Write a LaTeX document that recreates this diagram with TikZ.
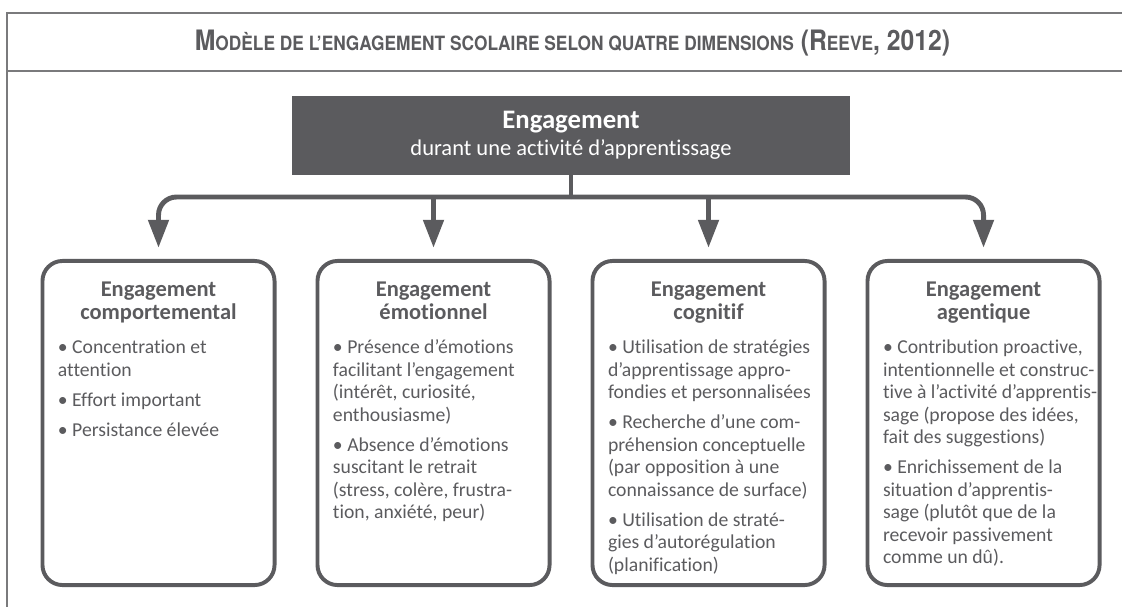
\documentclass[tikz,border=0pt]{standalone}
\usepackage{graphicx}
\usepackage{fontspec}
\setmainfont{Carlito}[Ligatures=NoCommon]
\newfontfamily\headfont{TeX Gyre Heros}
\usetikzlibrary{positioning,arrows.meta}
\definecolor{ink}{HTML}{5B5B5E}
\definecolor{rule}{HTML}{7A7A7C}
\newcommand\smcap[1]{{\fontsize{14}{14}\selectfont #1}}

\begin{document}
\begin{tikzpicture}[x=0.025cm, y=-0.025cm,
  main/.style = {fill=ink, text=white, minimum width=13.95cm, minimum height=1.975cm, align=center, inner sep=0pt},
  dim/.style = {draw=ink, line width=2.8pt, rounded corners=0.5cm, minimum width=5.8cm, minimum height=8.1cm},
  dimhead/.style = {text=ink, align=center, inner sep=0pt, font=\bfseries\fontsize{16}{16.4}\selectfont},
  dimtext/.style = {text=ink, align=left, inner sep=0pt, font=\fontsize{14}{16}\selectfont},
  link/.style = {draw=ink, line width=3.5pt, rounded corners=0.45cm},
  tip/.style = {-{Triangle[width=0.5cm,length=0.7cm]}, shorten >=0.28cm},
  frame/.style = {draw=rule, line width=1.1pt}]
\useasboundingbox (0,0) rectangle (1122,607);
% frame and title
\draw[frame] (1122,13) -- (7,13) -- (7,607);
\draw[frame] (7,71) -- (1122,71);
\node[anchor=base, text=ink] (t) at (572.5,50) {\resizebox{18.875cm}{\height}{\headfont\bfseries\fontsize{20}{20}\selectfont M\smcap{ODÈLE DE L’ENGAGEMENT SCOLAIRE SELON QUATRE DIMENSIONS} (R\smcap{EEVE}, 2012)}};
% top box
\node[main] (0) at (571,135.5) {{\bfseries\fontsize{19}{20}\selectfont Engagement}\\[4pt]{\fontsize{16}{20}\selectfont durant une activité d’apprentissage}};
% four dimensions
\node[dim] (1) at (158.5,423) {};
\node[dim] (2) [right=0.975cm of 1] {};
\node[dim] (3) [right=0.975cm of 2] {};
\node[dim] (4) [right=0.975cm of 3] {};
\node[dimhead, below=0.56cm of 1.north] (h1) {Engagement\\comportemental};
\node[dimhead, below=0.56cm of 2.north] (h2) {Engagement\\émotionnel};
\node[dimhead, below=0.56cm of 3.north] (h3) {Engagement\\cognitif};
\node[dimhead, below=0.56cm of 4.north] (h4) {Engagement\\agentique};
\node[dimtext, below right=2.02cm and 0.43cm of 1.north west] (b1) {• Concentration et\\attention\\[5.3pt]• Effort important\\[5.3pt]• Persistance élevée};
\node[dimtext, below right=2.02cm and 0.43cm of 2.north west] (b2) {• Présence d’émotions\\facilitant l’engagement\\(intérêt, curiosité,\\enthousiasme)\\[5.3pt]• Absence d’émotions\\suscitant le retrait\\(stress, colère, frustra-\\tion, anxiété, peur)};
\node[dimtext, below right=2.02cm and 0.43cm of 3.north west] (b3) {• Utilisation de stratégies\\d’apprentissage appro-\\fondies et personnalisées\\[5.3pt]• Recherche d’une com-\\préhension conceptuelle\\(par opposition à une\\connaissance de surface)\\[5.3pt]• Utilisation de straté-\\gies d’autorégulation\\(planification)};
\node[dimtext, below right=2.02cm and 0.43cm of 4.north west] (b4) {• Contribution proactive,\\intentionnelle et construc-\\tive à l’activité d’apprentis-\\sage (propose des idées,\\fait des suggestions)\\[5.3pt]• Enrichissement de la\\situation d’apprentis-\\sage (plutôt que de la\\recevoir passivement\\comme un dû).};
% connectors
\coordinate (h) at (571,197);
\draw[link] (0) -- (h);
\draw[link, tip] (h) -| (1);
\draw[link, tip] (h) -| (4);
\draw[link, tip] (2 |- h) -- (2);
\draw[link, tip] (3 |- h) -- (3);
\end{tikzpicture}
\end{document}
